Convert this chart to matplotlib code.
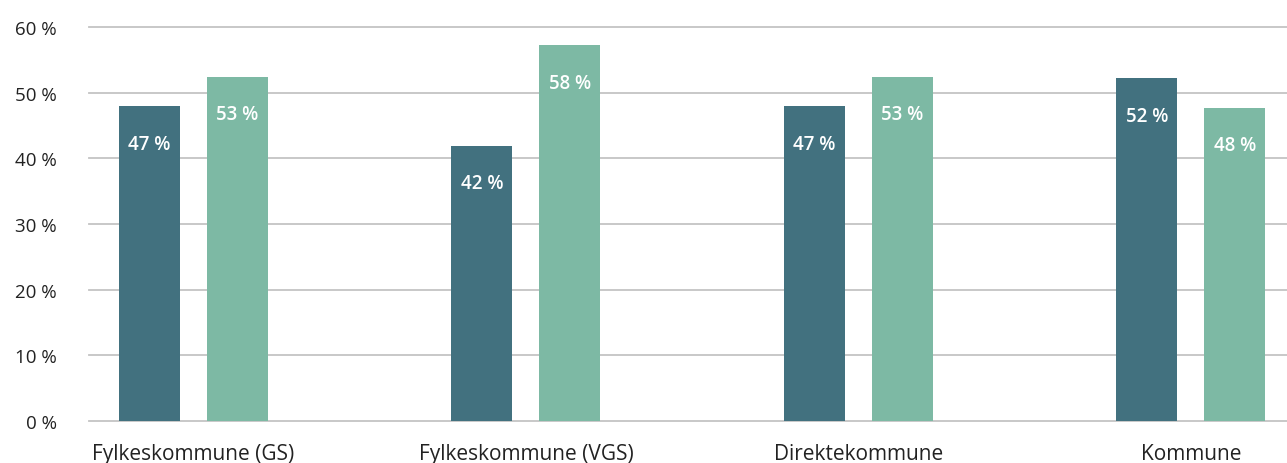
import matplotlib
matplotlib.use("Agg")
import matplotlib.pyplot as plt
import numpy as np
from matplotlib.ticker import FuncFormatter

# Data
categories = ["Fylkeskommune (GS)", "Fylkeskommune (VGS)", "Direktekommune", "Kommune"]
dark_values = [47.9, 41.9, 47.9, 52.2]
light_values = [52.4, 57.2, 52.4, 47.7]
dark_labels = ["47 %", "42 %", "47 %", "52 %"]
light_labels = ["53 %", "58 %", "53 %", "48 %"]
y_ticks = [0, 10, 20, 30, 40, 50, 60]

DARK = "#42717f"
LIGHT = "#7db9a4"
GRID = "#c4c4c4"
TEXT = "#222222"

plt.rcParams["font.family"] = ["Open Sans", "DejaVu Sans"]

fig = plt.figure(figsize=(12.87, 4.64), dpi=100)
ax = fig.add_axes([89 / 1287, 1 - 422 / 464, 1 - 89 / 1287, (422 - 28) / 464])

x = np.arange(len(categories))
width = 0.1835
offset = 0.1323

dark_bars = ax.bar(x - offset, dark_values, width, color=DARK, zorder=3)
light_bars = ax.bar(x + offset, light_values, width, color=LIGHT, zorder=3)

for bars, labels in ((dark_bars, dark_labels), (light_bars, light_labels)):
    for bar, label in zip(bars, labels):
        ax.annotate(
            label,
            xy=(bar.get_x() + bar.get_width() / 2, bar.get_height()),
            xytext=(0, -27),
            textcoords="offset points",
            ha="center",
            va="center",
            color="white",
            fontsize=13.5,
            fontweight="semibold",
            zorder=4,
        )

ax.set_ylim(0, 60)
ax.set_xlim(-0.314, 3.289)
ax.set_yticks(y_ticks)
ax.yaxis.set_major_formatter(FuncFormatter(lambda v, _p: f"{v:.0f} %"))
ax.set_xticks(x)
ax.set_xticklabels(categories)
ax.tick_params(axis="y", length=0, pad=23, labelsize=13.5, labelcolor=TEXT)
ax.tick_params(axis="x", length=0, pad=16, labelsize=15, labelcolor=TEXT)
for label in ax.get_yticklabels():
    label.set_fontweight("medium")
ax.grid(axis="y", color=GRID, linewidth=1.3, zorder=0)
for line in ax.get_ygridlines():
    line.set_clip_on(False)
ax.set_axisbelow(True)
for spine in ax.spines.values():
    spine.set_visible(False)

fig.savefig("out.png", dpi=100)
